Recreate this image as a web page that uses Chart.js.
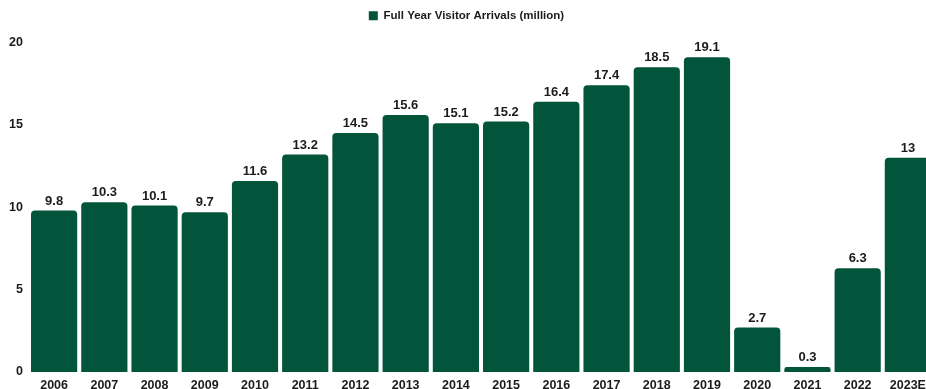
<!DOCTYPE html>
<html lang="en">
<head>
  <meta charset="UTF-8">
  <title>Full Year Visitor Arrivals</title>
  <script src="https://cdn.jsdelivr.net/npm/chart.js@4.4.0/dist/chart.umd.min.js"></script>
  <style>
    html, body { margin: 0; padding: 0; background: #fff; overflow: hidden; }
    #wrap { width: 940px; height: 389px; position: relative; }
  </style>
</head>
<body>
  <div id="wrap"><canvas id="arrivals"></canvas></div>

  <script>
    // Yearly visitor arrivals, in millions
    const years = ['2006', '2007', '2008', '2009', '2010', '2011', '2012', '2013', '2014',
                   '2015', '2016', '2017', '2018', '2019', '2020', '2021', '2022', '2023E'];
    const arrivals = [9.8, 10.3, 10.1, 9.7, 11.6, 13.2, 14.5, 15.6, 15.1,
                      15.2, 16.4, 17.4, 18.5, 19.1, 2.7, 0.3, 6.3, 13];
    const yTicks = [0, 5, 10, 15, 20];

    const barGreen = '#02553b';
    const inkColor = '#1b1b1b';
    const fontFamily = 'Arial, "Liberation Sans", Helvetica, sans-serif';

    // Writes each bar's value just above its top edge
    const valueLabels = {
      id: 'valueLabels',
      afterDatasetsDraw(chart) {
        const ctx = chart.ctx;
        const meta = chart.getDatasetMeta(0);
        ctx.save();
        ctx.font = 'bold 13px ' + fontFamily;
        ctx.fillStyle = inkColor;
        ctx.textAlign = 'center';
        ctx.textBaseline = 'bottom';
        meta.data.forEach((bar, i) => {
          ctx.fillText(String(arrivals[i]), bar.x, bar.y - 3);
        });
        ctx.restore();
      }
    };

    // Extra room between the legend and the plot
    const legendGap = {
      id: 'legendGap',
      beforeInit(chart) {
        const fit = chart.legend.fit;
        chart.legend.fit = function () {
          fit.call(this);
          this.height += 11;
        };
      }
    };

    new Chart(document.getElementById('arrivals'), {
      type: 'bar',
      data: {
        labels: years,
        datasets: [{
          label: 'Full Year Visitor Arrivals (million)',
          data: arrivals,
          backgroundColor: barGreen,
          borderRadius: { topLeft: 4, topRight: 4 },
          borderSkipped: 'bottom',
          barPercentage: 0.92,
          categoryPercentage: 1.0
        }]
      },
      options: {
        responsive: true,
        maintainAspectRatio: false,
        animation: false,
        layout: { padding: { left: 0, right: 7, top: 0, bottom: 0 } },
        plugins: {
          legend: {
            display: true,
            position: 'top',
            labels: {
              boxWidth: 9,
              boxHeight: 9,
              padding: 10,
              color: inkColor,
              font: { family: fontFamily, size: 11.5, weight: 'bold' }
            }
          },
          tooltip: { enabled: false }
        },
        scales: {
          x: {
            afterFit(scale) { scale.height = 17; },
            grid: { display: false, drawTicks: false },
            border: { display: false },
            ticks: {
              color: inkColor,
              padding: 6,
              maxRotation: 0,
              autoSkip: false,
              font: { family: fontFamily, size: 12.5, weight: 'bold' }
            }
          },
          y: {
            min: 0,
            max: 20,
            afterBuildTicks(scale) {
              scale.ticks = yTicks.map(v => ({ value: v }));
            },
            afterFit(scale) { scale.width = 29; },
            grid: { display: false, drawTicks: false },
            border: { display: false },
            ticks: {
              color: inkColor,
              padding: 6,
              font: { family: fontFamily, size: 12.5, weight: 'bold' }
            }
          }
        }
      },
      plugins: [valueLabels, legendGap]
    });
  </script>
</body>
</html>
